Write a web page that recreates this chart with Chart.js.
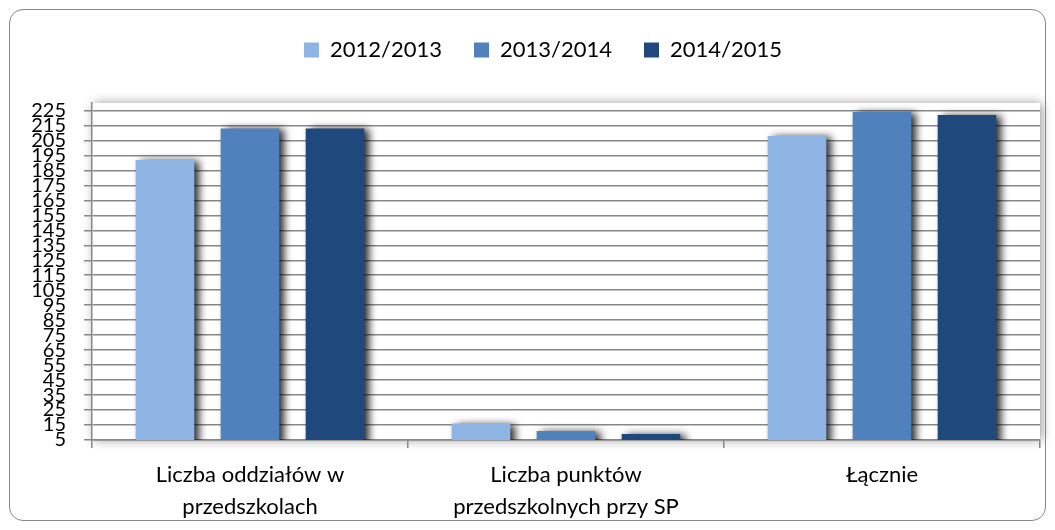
<!DOCTYPE html>
<html>
<head>
<meta charset="utf-8">
<script src="https://cdn.jsdelivr.net/npm/chart.js@4"></script>
<style>
  html, body { margin: 0; padding: 0; background: #ffffff; }
  #wrap { position: relative; width: 1055px; height: 530px; }
  #frame { position: absolute; left: 9px; top: 9px; width: 1035px; height: 510px;
           border: 1.5px solid #878787; border-radius: 14px; pointer-events: none; }
  canvas { position: absolute; left: 0; top: 0; }
</style>
</head>
<body>
<div id="wrap">
  <canvas id="c" width="1055" height="530"></canvas>
  <div id="frame"></div>
</div>
<script>
const categories = [
  ["Liczba oddziałów w", "przedszkolach"],
  ["Liczba punktów", "przedszkolnych przy SP"],
  ["Łącznie"]
];
const seriesNames = ["2012/2013", "2013/2014", "2014/2015"];
const values2012 = [192, 16, 208];
const values2013 = [213, 11, 224];
const values2014 = [213, 9, 222];
const yTicks = [5, 15, 25, 35, 45, 55, 65, 75, 85, 95, 105, 115, 125, 135, 145, 155, 165, 175, 185, 195, 205, 215, 225];
const colors = ["#8EB4E3", "#4F81BD", "#1F497D"];

Chart.defaults.font.family = "Lato, 'Open Sans', sans-serif";
Chart.defaults.color = "#000000";

const gridColor = "#878787";

const plotShadow = {
  id: "plotShadow",
  beforeDraw(chart) {
    const { ctx, chartArea: a } = chart;
    ctx.save();
    ctx.shadowColor = "rgba(0,0,0,0.4)";
    ctx.shadowBlur = 10;
    ctx.shadowOffsetX = 2;
    ctx.shadowOffsetY = 0;
    ctx.fillStyle = "#ffffff";
    ctx.fillRect(a.left, a.top, a.right - a.left, a.bottom - a.top);
    ctx.restore();
  }
};

const barShadow = {
  id: "barShadow",
  beforeDatasetsDraw(chart) {
    const ctx = chart.ctx;
    ctx.save();
    ctx.shadowColor = "rgba(0,0,0,0.85)";
    ctx.shadowBlur = 8;
    ctx.shadowOffsetX = 5;
    ctx.shadowOffsetY = 1;
  },
  afterDatasetsDraw(chart) {
    chart.ctx.restore();
  }
};

const legendGap = {
  id: "legendGap",
  afterInit(chart) {
    const lg = chart.legend;
    if (lg) {
      const f = lg.fit.bind(lg);
      lg.fit = function () { f(); this.height += 32; };
    }
  },
  afterLayout(chart) {
    const lg = chart.legend;
    if (lg) { lg.left += 13; lg.right += 13; }
  }
};

new Chart(document.getElementById("c"), {
  type: "bar",
  data: {
    labels: categories,
    datasets: [
      { label: seriesNames[0], data: values2012, backgroundColor: colors[0] },
      { label: seriesNames[1], data: values2013, backgroundColor: colors[1] },
      { label: seriesNames[2], data: values2014, backgroundColor: colors[2] }
    ]
  },
  options: {
    responsive: false,
    animation: false,
    devicePixelRatio: 1,
    categoryPercentage: 0.807,
    barPercentage: 0.69,
    layout: { padding: { top: 7, left: 20, right: 15, bottom: 0 } },
    plugins: {
      legend: {
        position: "top",
        labels: {
          boxWidth: 15,
          boxHeight: 15,
          padding: 32,
          font: { size: 22 },
          color: "#000000"
        }
      },
      tooltip: { enabled: false }
    },
    scales: {
      x: {
        grid: {
          display: true,
          drawOnChartArea: false,
          drawTicks: true,
          tickLength: 8,
          color: gridColor,
          lineWidth: 1.5
        },
        border: { display: true, color: gridColor, width: 1.5 },
        ticks: {
          font: { size: 22, lineHeight: 1.45 },
          color: "#000000",
          padding: 11,
          maxRotation: 0,
          autoSkip: false
        },
        afterFit(scale) { scale.height = 90; }
      },
      y: {
        min: 5,
        max: 230,
        afterBuildTicks(scale) { scale.ticks = yTicks.map(v => ({ value: v })); },
        grid: {
          color: gridColor,
          lineWidth: 1.5,
          tickLength: 8,
          drawTicks: true
        },
        border: { display: true, color: gridColor, width: 1.5 },
        ticks: {
          autoSkip: false,
          font: { size: 20 },
          color: "#000000",
          padding: 18
        },
        afterFit(scale) { scale.width = 72; }
      }
    }
  },
  plugins: [plotShadow, barShadow, legendGap]
});
</script>
</body>
</html>
